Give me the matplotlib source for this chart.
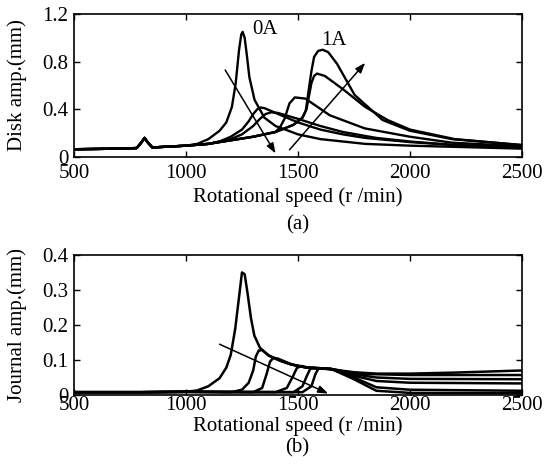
import matplotlib
matplotlib.use("Agg")
import matplotlib.pyplot as plt

plt.rcParams["font.family"] = ["Liberation Serif", "DejaVu Serif"]

# ---- (a) disk amplitude, shared low-speed baseline ----
base_a_x = [500, 700, 780, 800, 815, 830, 850, 900, 1000]
base_a_y = [0.065, 0.07, 0.075, 0.12, 0.16, 0.12, 0.08, 0.085, 0.095]

disk_x = [
    [1050, 1100, 1150, 1180, 1205, 1222, 1237, 1247, 1253, 1262, 1272, 1283, 1306,
     1350, 1400, 1500, 1600, 1800, 2000, 2500],
    [1100, 1150, 1200, 1250, 1280, 1300, 1318, 1333, 1350, 1400, 1500, 1600, 1700,
     1800, 2000, 2200, 2500],
    [1100, 1200, 1250, 1300, 1330, 1355, 1380, 1410, 1500, 1600, 1700, 1850, 2000,
     2200, 2500],
    [1100, 1200, 1300, 1400, 1420, 1440, 1462, 1486, 1533, 1564, 1642, 1798, 2000,
     2187, 2500],
    [1100, 1200, 1300, 1400, 1480, 1520, 1538, 1548, 1560, 1572, 1585, 1620, 1700,
     1800, 1900, 2000, 2200, 2500],
    [1100, 1200, 1300, 1400, 1480, 1520, 1535, 1547, 1560, 1572, 1590, 1610, 1635,
     1675, 1753, 1878, 2000, 2187, 2500],
]
disk_y = [
    [0.11, 0.15, 0.22, 0.29, 0.42, 0.62, 0.90, 1.03, 1.05, 1.00, 0.85, 0.67, 0.48,
     0.33, 0.26, 0.19, 0.15, 0.11, 0.095, 0.07],
    [0.11, 0.13, 0.17, 0.23, 0.30, 0.36, 0.40, 0.415, 0.41, 0.37, 0.29, 0.23, 0.19,
     0.16, 0.125, 0.10, 0.08],
    [0.11, 0.15, 0.19, 0.26, 0.32, 0.36, 0.375, 0.37, 0.32, 0.26, 0.21, 0.16, 0.13,
     0.10, 0.085],
    [0.11, 0.14, 0.17, 0.21, 0.25, 0.32, 0.45, 0.50, 0.49, 0.45, 0.35, 0.24, 0.17,
     0.12, 0.09],
    [0.11, 0.14, 0.17, 0.21, 0.27, 0.33, 0.40, 0.50, 0.62, 0.68, 0.70, 0.68, 0.57,
     0.42, 0.31, 0.23, 0.15, 0.10],
    [0.11, 0.14, 0.17, 0.21, 0.27, 0.33, 0.39, 0.55, 0.72, 0.84, 0.89, 0.90, 0.88,
     0.78, 0.52, 0.31, 0.22, 0.15, 0.10],
]

# ---- (b) journal amplitude, shared baseline ----
base_b_x = [500, 800, 1000]
base_b_y = [0.008, 0.008, 0.009]

journal_x = [
    [1050, 1100, 1150, 1180, 1200, 1220, 1235, 1250, 1262, 1275, 1290, 1305, 1330,
     1370, 1420, 1470, 1540, 1600, 1650, 1700, 1750, 1850, 2000, 2200, 2500],
    [1200, 1250, 1280, 1300, 1312, 1325, 1340, 1370, 1420, 1470, 1540, 1650, 1700,
     1800, 2000, 2500],
    [1300, 1340, 1360, 1375, 1390, 1410, 1470, 1540, 1650, 1720, 1850, 2000, 2500],
    [1400, 1450, 1475, 1495, 1515, 1540, 1650, 1730, 1850, 2000, 2500],
    [1480, 1520, 1540, 1555, 1570, 1650, 1750, 1850, 2000, 2500],
    [1520, 1560, 1578, 1592, 1650, 1750, 1850, 2000, 2500],
]
journal_y = [
    [0.013, 0.025, 0.048, 0.078, 0.115, 0.19, 0.27, 0.35, 0.345, 0.29, 0.22, 0.17,
     0.135, 0.112, 0.098, 0.087, 0.078, 0.075, 0.074, 0.069, 0.065, 0.061, 0.061,
     0.064, 0.070],
    [0.008, 0.015, 0.035, 0.07, 0.11, 0.127, 0.128, 0.113, 0.098, 0.087, 0.078,
     0.074, 0.068, 0.060, 0.057, 0.057],
    [0.008, 0.02, 0.06, 0.095, 0.106, 0.104, 0.088, 0.078, 0.074, 0.062, 0.050,
     0.046, 0.045],
    [0.008, 0.02, 0.05, 0.077, 0.083, 0.079, 0.074, 0.058, 0.040, 0.035, 0.033],
    [0.008, 0.025, 0.055, 0.075, 0.078, 0.074, 0.050, 0.022, 0.015, 0.012],
    [0.008, 0.025, 0.06, 0.076, 0.074, 0.045, 0.012, 0.006, 0.005],
]

fig = plt.figure(figsize=(5.46, 4.74), dpi=100)
ax_a = fig.add_axes([0.1355, 0.6688, 0.8205, 0.3017])
ax_b = fig.add_axes([0.1355, 0.1667, 0.8205, 0.2954])

for xs, ys in zip(disk_x, disk_y):
    ax_a.plot(base_a_x + xs, base_a_y + ys, color="black", lw=1.7)
for xs, ys in zip(journal_x, journal_y):
    ax_b.plot(base_b_x + xs, base_b_y + ys, color="black", lw=1.8)

arrow = dict(arrowstyle="-|>,head_length=0.6,head_width=0.22", color="black", lw=1.1,
             shrinkA=0, shrinkB=0)
ax_a.annotate("", xy=(1400, 0.03), xytext=(1175, 0.73), arrowprops=arrow)
ax_a.annotate("", xy=(1800, 0.79), xytext=(1462, 0.06), arrowprops=arrow)
ax_a.text(1295, 1.07, "0A", fontsize=15, va="center")
ax_a.text(1605, 0.98, "1A", fontsize=15, va="center")
ax_b.annotate("", xy=(1635, 0.004), xytext=(1150, 0.145), arrowprops=arrow)

panels = [
    (ax_a, 1.2, [0, 0.4, 0.8, 1.2], ["0", "0.4", "0.8", "1.2"], "Disk amp.(mm)",
     "(a)", 5, -0.215, 0.525),
    (ax_b, 0.4, [0, 0.1, 0.2, 0.3, 0.4], ["0", "0.1", "0.2", "0.3", "0.4"],
     "Journal amp.(mm)", "(b)", 1, -0.15, 0.055),
]
for ax, top, ticks, labels, ylabel, cap, xpad, xlab_y, cap_y in panels:
    ax.set_xlim(500, 2500)
    ax.set_ylim(0, top)
    ax.set_xticks([500, 1000, 1500, 2000, 2500])
    ax.set_yticks(ticks)
    ax.set_yticklabels(labels)
    ax.tick_params(direction="in", top=True, right=True, labelsize=15, length=4,
                   width=1)
    ax.tick_params(axis="x", pad=xpad)
    ax.tick_params(axis="y", pad=4)
    ax.set_xlabel("Rotational speed (r /min)", fontsize=15)
    ax.xaxis.set_label_coords(0.5, xlab_y)
    ax.set_ylabel(ylabel, fontsize=15)
    ax.yaxis.set_label_coords(-0.105, 0.5)
    fig.text(0.545, cap_y, cap, ha="center", va="center", fontsize=15)
    for s in ax.spines.values():
        s.set_linewidth(1.2)

fig.savefig("out.png", dpi=100)
